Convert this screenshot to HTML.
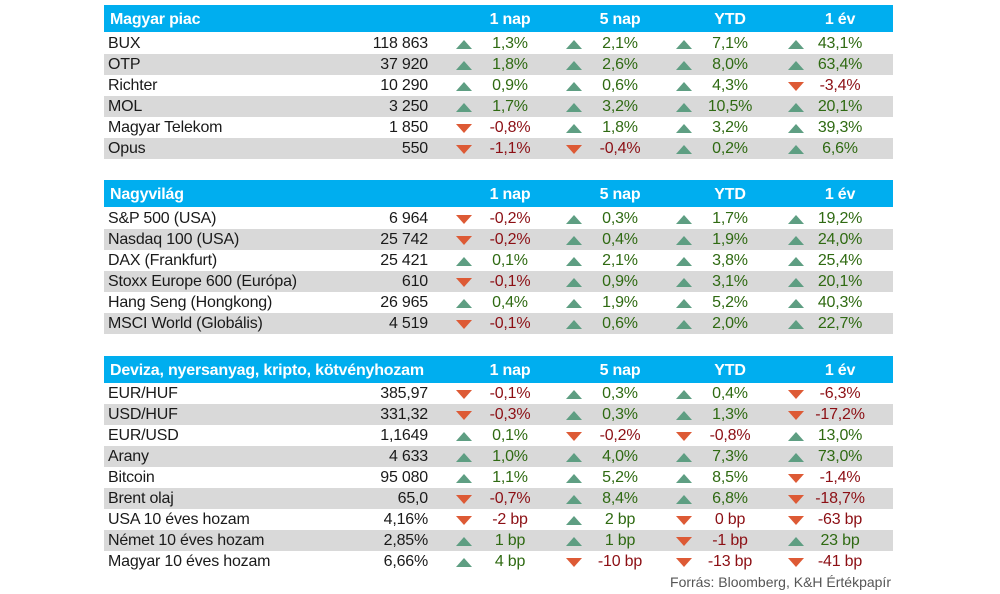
<!DOCTYPE html>
<html><head><meta charset="utf-8"><style>
body{margin:0;width:1000px;height:594px;background:#fff;font-family:"Liberation Sans",sans-serif;position:relative;overflow:hidden}
.r{position:absolute;left:104px;width:789px;height:21px;font-size:16px;line-height:22px;color:#1a1a1a;letter-spacing:-0.2px}
.g{background:#d9d9d9}
.h{background:#00aeef;color:#fff;font-weight:bold;height:27px;line-height:29px;font-size:16px}
.r span{position:absolute;white-space:nowrap}
.n{left:4px}
.v{right:465px}
.c{transform:translateX(-50%)}
.a1{left:406px}.a2{left:516px}.a3{left:626px}.a4{left:736px}
.u,.d{position:absolute;width:0;height:0;border-left:8px solid transparent;border-right:8px solid transparent}
.u{border-bottom:9px solid #5e9e82;top:7px}
.d{border-top:9px solid #dd5a35;top:7px}
.t1{left:352px}.t2{left:462px}.t3{left:572px}.t4{left:684px}
.p{color:#2f6a12}.m{color:#8c0f14}
.src{position:absolute;right:109px;top:574px;font-size:14px;color:#555}
</style></head><body>

<div class="r h" style="top:5px"><span class="n" style="left:6px">Magyar piac</span><span class="c a1">1 nap</span><span class="c a2">5 nap</span><span class="c a3">YTD</span><span class="c a4">1 év</span></div>
<div class="r" style="top:33px"><span class="n">BUX</span><span class="v">118 863</span><i class="u t1"></i><span class="c a1 p">1,3%</span><i class="u t2"></i><span class="c a2 p">2,1%</span><i class="u t3"></i><span class="c a3 p">7,1%</span><i class="u t4"></i><span class="c a4 p">43,1%</span></div>
<div class="r g" style="top:54px"><span class="n">OTP</span><span class="v">37 920</span><i class="u t1"></i><span class="c a1 p">1,8%</span><i class="u t2"></i><span class="c a2 p">2,6%</span><i class="u t3"></i><span class="c a3 p">8,0%</span><i class="u t4"></i><span class="c a4 p">63,4%</span></div>
<div class="r" style="top:75px"><span class="n">Richter</span><span class="v">10 290</span><i class="u t1"></i><span class="c a1 p">0,9%</span><i class="u t2"></i><span class="c a2 p">0,6%</span><i class="u t3"></i><span class="c a3 p">4,3%</span><i class="d t4"></i><span class="c a4 m">-3,4%</span></div>
<div class="r g" style="top:96px"><span class="n">MOL</span><span class="v">3 250</span><i class="u t1"></i><span class="c a1 p">1,7%</span><i class="u t2"></i><span class="c a2 p">3,2%</span><i class="u t3"></i><span class="c a3 p">10,5%</span><i class="u t4"></i><span class="c a4 p">20,1%</span></div>
<div class="r" style="top:117px"><span class="n">Magyar Telekom</span><span class="v">1 850</span><i class="d t1"></i><span class="c a1 m">-0,8%</span><i class="u t2"></i><span class="c a2 p">1,8%</span><i class="u t3"></i><span class="c a3 p">3,2%</span><i class="u t4"></i><span class="c a4 p">39,3%</span></div>
<div class="r g" style="top:138px"><span class="n">Opus</span><span class="v">550</span><i class="d t1"></i><span class="c a1 m">-1,1%</span><i class="d t2"></i><span class="c a2 m">-0,4%</span><i class="u t3"></i><span class="c a3 p">0,2%</span><i class="u t4"></i><span class="c a4 p">6,6%</span></div>

<div class="r h" style="top:180px"><span class="n" style="left:6px">Nagyvilág</span><span class="c a1">1 nap</span><span class="c a2">5 nap</span><span class="c a3">YTD</span><span class="c a4">1 év</span></div>
<div class="r" style="top:208px"><span class="n">S&amp;P 500 (USA)</span><span class="v">6 964</span><i class="d t1"></i><span class="c a1 m">-0,2%</span><i class="u t2"></i><span class="c a2 p">0,3%</span><i class="u t3"></i><span class="c a3 p">1,7%</span><i class="u t4"></i><span class="c a4 p">19,2%</span></div>
<div class="r g" style="top:229px"><span class="n">Nasdaq 100 (USA)</span><span class="v">25 742</span><i class="d t1"></i><span class="c a1 m">-0,2%</span><i class="u t2"></i><span class="c a2 p">0,4%</span><i class="u t3"></i><span class="c a3 p">1,9%</span><i class="u t4"></i><span class="c a4 p">24,0%</span></div>
<div class="r" style="top:250px"><span class="n">DAX (Frankfurt)</span><span class="v">25 421</span><i class="u t1"></i><span class="c a1 p">0,1%</span><i class="u t2"></i><span class="c a2 p">2,1%</span><i class="u t3"></i><span class="c a3 p">3,8%</span><i class="u t4"></i><span class="c a4 p">25,4%</span></div>
<div class="r g" style="top:271px"><span class="n">Stoxx Europe 600 (Európa)</span><span class="v">610</span><i class="d t1"></i><span class="c a1 m">-0,1%</span><i class="u t2"></i><span class="c a2 p">0,9%</span><i class="u t3"></i><span class="c a3 p">3,1%</span><i class="u t4"></i><span class="c a4 p">20,1%</span></div>
<div class="r" style="top:292px"><span class="n">Hang Seng (Hongkong)</span><span class="v">26 965</span><i class="u t1"></i><span class="c a1 p">0,4%</span><i class="u t2"></i><span class="c a2 p">1,9%</span><i class="u t3"></i><span class="c a3 p">5,2%</span><i class="u t4"></i><span class="c a4 p">40,3%</span></div>
<div class="r g" style="top:313px"><span class="n">MSCI World (Globális)</span><span class="v">4 519</span><i class="d t1"></i><span class="c a1 m">-0,1%</span><i class="u t2"></i><span class="c a2 p">0,6%</span><i class="u t3"></i><span class="c a3 p">2,0%</span><i class="u t4"></i><span class="c a4 p">22,7%</span></div>

<div class="r h" style="top:356px"><span class="n" style="left:6px">Deviza, nyersanyag, kripto, kötvényhozam</span><span class="c a1">1 nap</span><span class="c a2">5 nap</span><span class="c a3">YTD</span><span class="c a4">1 év</span></div>
<div class="r" style="top:383px"><span class="n">EUR/HUF</span><span class="v">385,97</span><i class="d t1"></i><span class="c a1 m">-0,1%</span><i class="u t2"></i><span class="c a2 p">0,3%</span><i class="u t3"></i><span class="c a3 p">0,4%</span><i class="d t4"></i><span class="c a4 m">-6,3%</span></div>
<div class="r g" style="top:404px"><span class="n">USD/HUF</span><span class="v">331,32</span><i class="d t1"></i><span class="c a1 m">-0,3%</span><i class="u t2"></i><span class="c a2 p">0,3%</span><i class="u t3"></i><span class="c a3 p">1,3%</span><i class="d t4"></i><span class="c a4 m">-17,2%</span></div>
<div class="r" style="top:425px"><span class="n">EUR/USD</span><span class="v">1,1649</span><i class="u t1"></i><span class="c a1 p">0,1%</span><i class="d t2"></i><span class="c a2 m">-0,2%</span><i class="d t3"></i><span class="c a3 m">-0,8%</span><i class="u t4"></i><span class="c a4 p">13,0%</span></div>
<div class="r g" style="top:446px"><span class="n">Arany</span><span class="v">4 633</span><i class="u t1"></i><span class="c a1 p">1,0%</span><i class="u t2"></i><span class="c a2 p">4,0%</span><i class="u t3"></i><span class="c a3 p">7,3%</span><i class="u t4"></i><span class="c a4 p">73,0%</span></div>
<div class="r" style="top:467px"><span class="n">Bitcoin</span><span class="v">95 080</span><i class="u t1"></i><span class="c a1 p">1,1%</span><i class="u t2"></i><span class="c a2 p">5,2%</span><i class="u t3"></i><span class="c a3 p">8,5%</span><i class="d t4"></i><span class="c a4 m">-1,4%</span></div>
<div class="r g" style="top:488px"><span class="n">Brent olaj</span><span class="v">65,0</span><i class="d t1"></i><span class="c a1 m">-0,7%</span><i class="u t2"></i><span class="c a2 p">8,4%</span><i class="u t3"></i><span class="c a3 p">6,8%</span><i class="d t4"></i><span class="c a4 m">-18,7%</span></div>
<div class="r" style="top:509px"><span class="n">USA 10 éves hozam</span><span class="v">4,16%</span><i class="d t1"></i><span class="c a1 m">-2 bp</span><i class="u t2"></i><span class="c a2 p">2 bp</span><i class="d t3"></i><span class="c a3 m">0 bp</span><i class="d t4"></i><span class="c a4 m">-63 bp</span></div>
<div class="r g" style="top:530px"><span class="n">Német 10 éves hozam</span><span class="v">2,85%</span><i class="u t1"></i><span class="c a1 p">1 bp</span><i class="u t2"></i><span class="c a2 p">1 bp</span><i class="d t3"></i><span class="c a3 m">-1 bp</span><i class="u t4"></i><span class="c a4 p">23 bp</span></div>
<div class="r" style="top:551px"><span class="n">Magyar 10 éves hozam</span><span class="v">6,66%</span><i class="u t1"></i><span class="c a1 p">4 bp</span><i class="d t2"></i><span class="c a2 m">-10 bp</span><i class="d t3"></i><span class="c a3 m">-13 bp</span><i class="d t4"></i><span class="c a4 m">-41 bp</span></div>

<div class="src">Forrás: Bloomberg, K&amp;H Értékpapír</div>
</body></html>
